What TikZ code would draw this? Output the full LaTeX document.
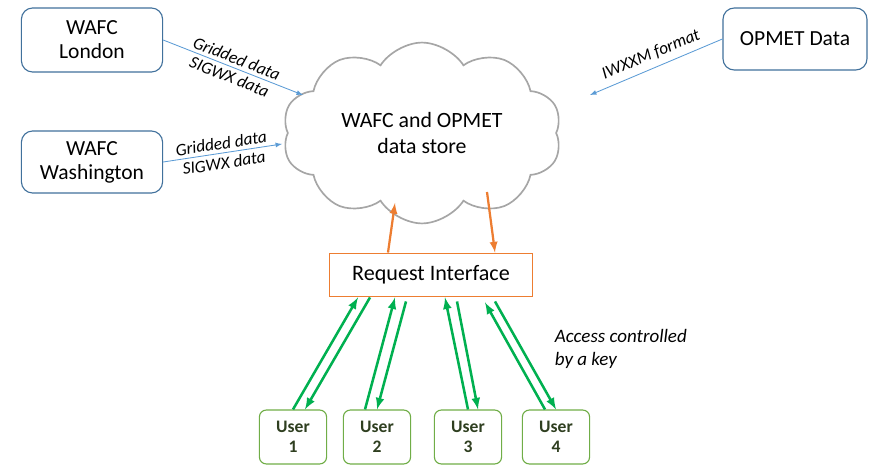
\documentclass[tikz,border=0pt]{standalone}
\usepackage{fontspec}
\setmainfont{Carlito}
\usetikzlibrary{calc,arrows,shapes.symbols}
\definecolor{boxblue}{HTML}{41719C}
\definecolor{feedblue}{HTML}{5B9BD5}
\definecolor{cloudgray}{HTML}{A6A6A6}
\definecolor{reqorange}{HTML}{ED7D31}
\definecolor{keygreen}{HTML}{00B050}
\definecolor{usergreen}{HTML}{70AD47}
\definecolor{usertext}{HTML}{2F3F20}
\tikzset{
  site/.style={draw=boxblue,thick,rounded corners=8pt,fill=white,align=center,
    font=\fontsize{15.3}{17}\selectfont,minimum width=3.53cm,minimum height=1.6cm},
  user/.style={draw=usergreen,thick,rounded corners=5pt,align=center,text=usertext,
    font=\bfseries\fontsize{12.5}{14}\selectfont,minimum width=1.68cm,minimum height=1.35cm},
  feed/.style={draw=feedblue,line width=0.6pt,-latex},
  feed label/.style={font=\itshape\fontsize{12.3}{14}\selectfont,align=center,sloped,midway},
  query/.style={draw=reqorange,line width=1.6pt,-latex},
  keyed/.style={draw=keygreen,line width=1.8pt,-latex}
}
\begin{document}
\begin{tikzpicture}[x=0.025cm,y=-0.025cm]
\useasboundingbox (0,0) rectangle (871,466);

% sources
\node[site] (london) at (92,40) {WAFC\\London};
\node[site,minimum height=1.55cm] (washington) at (92,162) {WAFC\\Washington};
\node[site,minimum width=3.6cm,minimum height=1.55cm] (opmet) at (795,39) {OPMET Data};

% store
\node[cloud,cloud puffs=10,cloud puff arc=115,aspect=1.64,draw=cloudgray,line width=1.2pt,align=center,
  minimum width=6.98cm,minimum height=4.2cm,font=\fontsize{15.5}{18}\selectfont] (store) at (422,133) {WAFC and OPMET\\data store};

\draw[feed] (london.east) -- ($(store)+(-119,-38)$) node[feed label] {Gridded data\\SIGWX data};
\draw[feed] (washington.east) -- ($(store)+(-140,11)$) node[feed label] {Gridded data\\SIGWX data};
\draw[feed] (opmet.west) -- ($(store)+(168,-38)$) node[feed label,above=1pt] {IWXXM format};

% interface
\node[draw=reqorange,line width=1.2pt,minimum width=5.08cm,minimum height=1.08cm,
  font=\fontsize{15.7}{18}\selectfont] (req) at (431,275) {Request Interface};
\draw[query] ($(req.north)+(-43,0)$) -- ($(store)+(-27,70)$);
\draw[query] ($(store)+(65,59)$) -- ($(req.north)+(64,0)$);

% users
\node[user] (u1) at (293,437) {User\\1};
\node[user] (u2) at (377,437) {User\\2};
\node[user] (u3) at (468,437) {User\\3};
\node[user] (u4) at (556,437) {User\\4};

\draw[keyed] (u1.north) -- ($(req.south)+(-73,0)$);
\draw[keyed] ($(req.south)+(-61,0)$) -- ($(u1.north)+(12,0)$);
\draw[keyed] ($(u2.north)+(-12,0)$) -- ($(req.south)+(-36,0)$);
\draw[keyed] ($(req.south)+(-25,4)$) -- (u2.north);
\draw[keyed] (u3.north) -- ($(req.south)+(14,0)$);
\draw[keyed] ($(req.south)+(26,4)$) -- ($(u3.north)+(10,0)$);
\draw[keyed] ($(u4.north)+(-11,0)$) -- ($(req.south)+(54,5)$);
\draw[keyed] ($(req.south)+(64,4)$) -- (u4.north);

\node[anchor=west,align=left,font=\itshape\fontsize{13.5}{16}\selectfont] (key) at (550,349) {Access controlled\\by a key};
\end{tikzpicture}
\end{document}
